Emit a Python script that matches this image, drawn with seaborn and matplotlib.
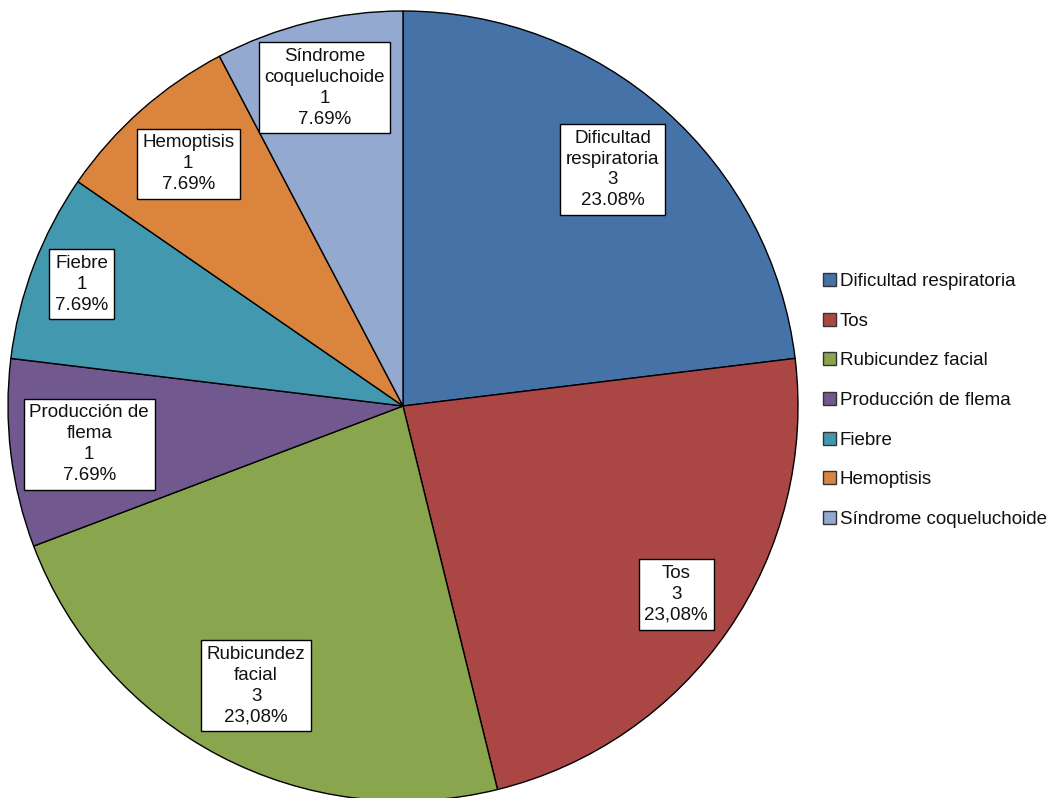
import matplotlib
matplotlib.use('Agg')
import matplotlib.pyplot as plt
import numpy as np
import seaborn as sns

CATEGORIES = ['Dificultad respiratoria', 'Tos', 'Rubicundez facial',
              'Producción de flema', 'Fiebre', 'Hemoptisis',
              'Síndrome coqueluchoide']
COUNTS = [3, 3, 3, 1, 1, 1, 1]
BOX_NAMES = ['Dificultad\nrespiratoria', 'Tos', 'Rubicundez\nfacial',
             'Producción de\nflema', 'Fiebre', 'Hemoptisis',
             'Síndrome\ncoqueluchoide']
PERCENTS = ['23.08%', '23,08%', '23,08%', '7.69%', '7.69%', '7.69%', '7.69%']
COLORS = ['#4572A7', '#AA4643', '#89A54E', '#71588F', '#4198AF',
          '#DB843D', '#93A9CF']
LABEL_DIST = [0.80, 0.84, 0.80, 0.80, 0.87, 0.82, 0.83]


def main():
    sns.set_style('white')
    plt.rcParams['font.family'] = ['Liberation Sans', 'DejaVu Sans']

    fig = plt.figure(figsize=(10.54, 7.98), dpi=100)
    ax = fig.add_axes([403 / 1054 - 395 / 1054, (392 - 395) / 798,
                       790 / 1054, 790 / 798])

    wedges, _ = ax.pie(
        COUNTS,
        colors=COLORS,
        startangle=90,
        counterclock=False,
        radius=1,
        wedgeprops={'edgecolor': 'black', 'linewidth': 1},
    )
    ax.set_xlim(-1, 1)
    ax.set_ylim(-1, 1)
    ax.set_aspect('equal')
    ax.axis('off')

    for wedge, name, n, pct, d in zip(wedges, BOX_NAMES, COUNTS, PERCENTS,
                                      LABEL_DIST):
        mid = np.deg2rad((wedge.theta1 + wedge.theta2) / 2)
        ax.text(
            d * np.cos(mid), d * np.sin(mid), f'{name}\n{n}\n{pct}',
            ha='center', va='center', fontsize=13.5, linespacing=1.3,
            color='#111111',
            bbox={'boxstyle': 'square,pad=0.3', 'facecolor': 'white',
                  'edgecolor': 'black', 'linewidth': 1},
        )

    leg = fig.legend(
        wedges, CATEGORIES,
        loc='upper left',
        bbox_to_anchor=(823 / 1054, 1 - 273 / 798),
        frameon=False,
        fontsize=13.5,
        handlelength=0.7,
        handleheight=0.7,
        handletextpad=0.2,
        labelspacing=1.2,
        borderpad=0,
        borderaxespad=0,
    )
    for text in leg.get_texts():
        text.set_color('#111111')
    for h in leg.legend_handles:
        h.set_linewidth(1)
        h.set_edgecolor('#333333')

    fig.savefig('out.png', dpi=100)


if __name__ == '__main__':
    main()
